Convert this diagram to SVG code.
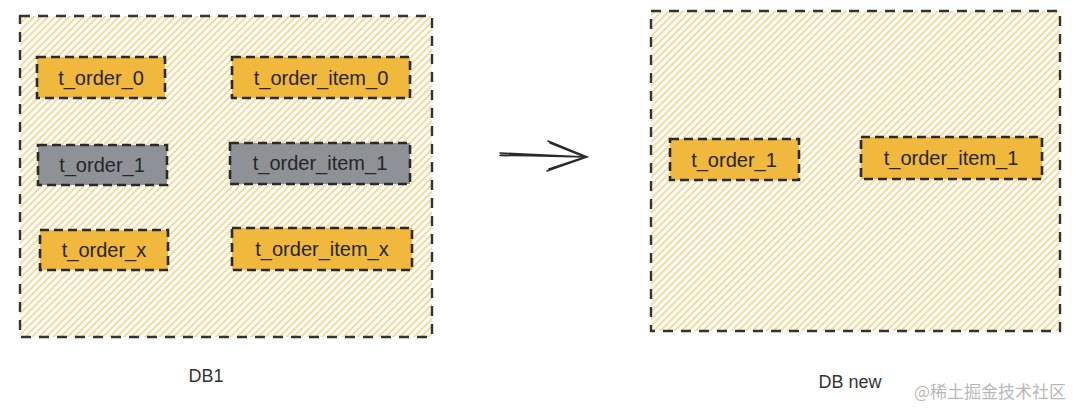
<svg xmlns="http://www.w3.org/2000/svg" width="1080" height="410" viewBox="0 0 1080 410">
  <style>
    .db { fill: url(#hatch); stroke: #333333; stroke-width: 2.4; stroke-dasharray: 10 8; }
    .tb { stroke: #2a2a2a; stroke-width: 2.6; stroke-dasharray: 9 5; }
    .y { fill: #f0b83d; }
    .g { fill: #8e9297; }
    .lbl { font-family: "Liberation Sans", Arial, sans-serif; font-size: 20px; fill: #262626; text-anchor: middle; dominant-baseline: central; }
    .cap { font-family: "Liberation Sans", Arial, sans-serif; font-size: 18px; fill: #333; text-anchor: middle; }
    .wm { font-family: "Noto Sans CJK SC", "Liberation Serif", serif; font-size: 17px; fill: #b8b8b8; }
    .arr { fill: none; stroke: #2a2a2a; stroke-width: 1.6; stroke-linecap: round; }
  </style>
  <defs>
    <pattern id="hatch" width="5" height="5" patternUnits="userSpaceOnUse" patternTransform="rotate(45)">
      <rect width="5" height="5" fill="#fffdf7"/>
      <rect width="1.8" height="5" fill="#f0d69a"/>
    </pattern>
  </defs>
  <rect width="1080" height="410" fill="#ffffff"/>

  <g id="db1">
    <rect class="db" x="20" y="16" width="412" height="321"/>
  </g>
  <g id="dbnew">
    <rect class="db" x="651" y="11" width="409" height="320"/>
  </g>

  <g id="t_order_0">
    <rect class="tb y" x="37" y="57" width="128" height="41"/>
    <text class="lbl" x="101" y="78">t_order_0</text>
  </g>
  <g id="t_order_item_0">
    <rect class="tb y" x="232" y="57" width="178" height="41"/>
    <text class="lbl" x="321" y="78">t_order_item_0</text>
  </g>
  <g id="t_order_1">
    <rect class="tb g" x="38" y="145" width="129" height="40"/>
    <text class="lbl" x="102" y="165">t_order_1</text>
  </g>
  <g id="t_order_item_1">
    <rect class="tb g" x="230" y="143" width="180" height="41"/>
    <text class="lbl" x="320" y="163">t_order_item_1</text>
  </g>
  <g id="t_order_x">
    <rect class="tb y" x="40" y="230" width="128" height="40"/>
    <text class="lbl" x="104" y="250">t_order_x</text>
  </g>
  <g id="t_order_item_x">
    <rect class="tb y" x="232" y="228" width="180" height="42"/>
    <text class="lbl" x="322" y="249">t_order_item_x</text>
  </g>

  <g id="new_t_order_1">
    <rect class="tb y" x="670" y="139" width="129" height="41"/>
    <text class="lbl" x="734" y="160">t_order_1</text>
  </g>
  <g id="new_t_order_item_1">
    <rect class="tb y" x="861" y="137" width="181" height="42"/>
    <text class="lbl" x="951" y="158">t_order_item_1</text>
  </g>

  <g id="connectors">
    <path class="arr" d="M500 153 L586 157 M501 155 L585 157 M500 155.5 L560 156"/>
    <path class="arr" d="M548 141 L587 157 L547 171 M550 143 L585 157 L549 169"/>
  </g>

  <text class="cap" x="206" y="382">DB1</text>
  <text class="cap" x="850" y="388">DB new</text>
  <text class="wm" x="914" y="398">@稀土掘金技术社区</text>
</svg>
